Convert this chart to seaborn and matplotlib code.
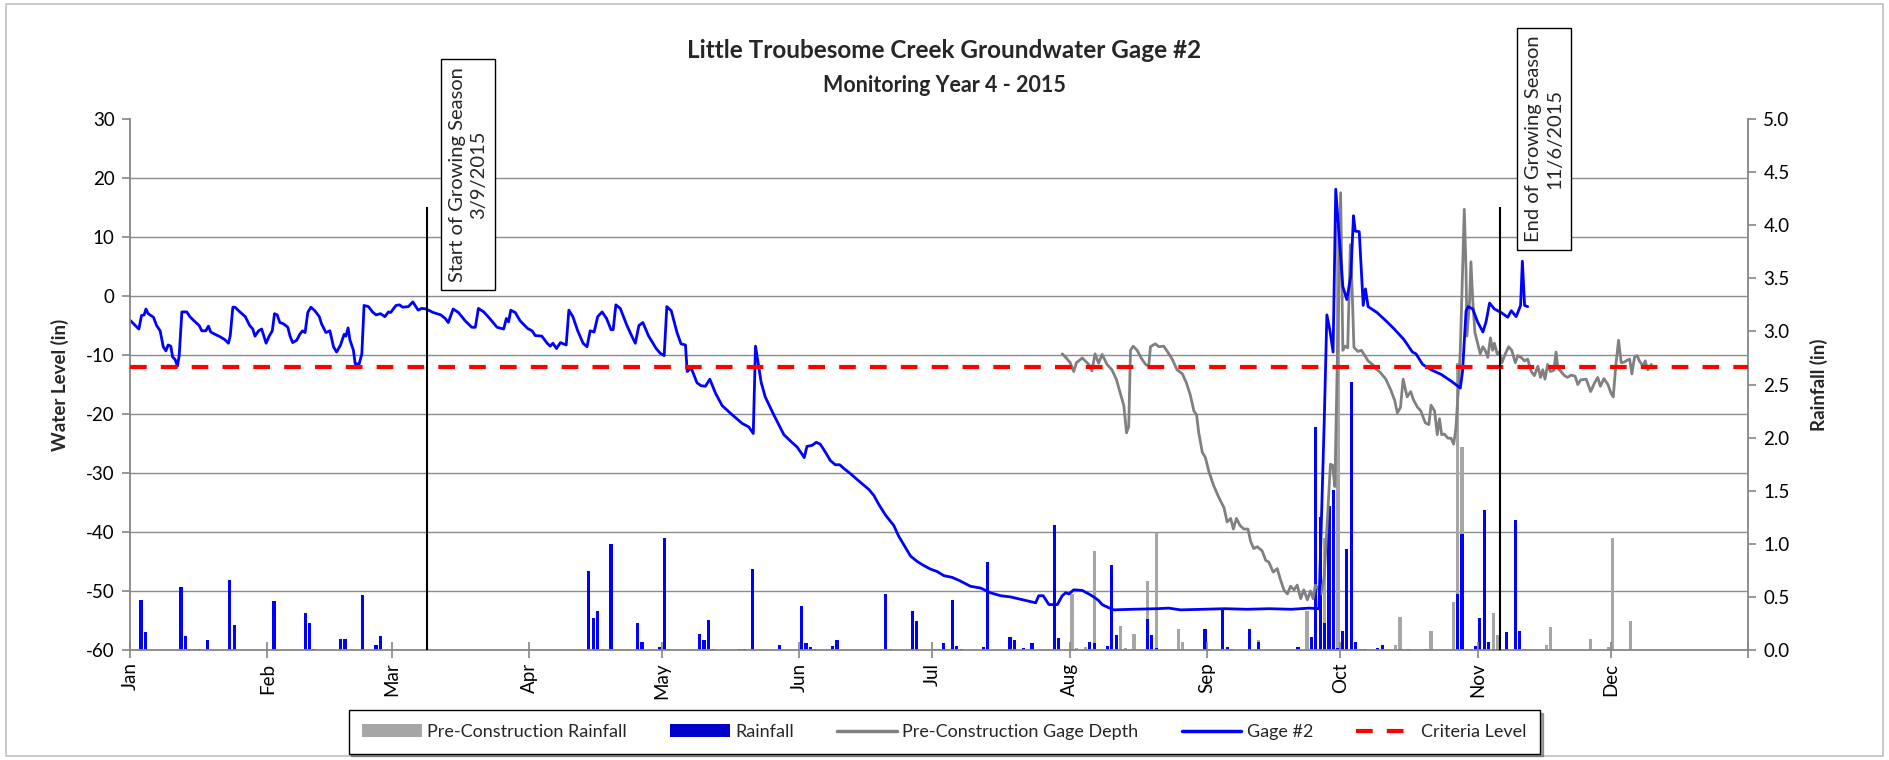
import numpy as np
import pandas as pd
import matplotlib
matplotlib.use("Agg")
import matplotlib.pyplot as plt
from matplotlib.lines import Line2D
from matplotlib.patches import Patch, Rectangle
import seaborn as sns

YEAR_START = pd.Timestamp("2015-01-01")
YEAR_END = pd.Timestamp("2016-01-01")

# ---- Gage #2 water level (days after Jan 1, inches) ----
gage2_day = [
    0, 2.0, 2.6, 3.2, 3.6, 4.1, 5.3, 6.0, 6.8, 7.5, 8.1, 8.6, 9.2, 9.6, 10.2, 10.7, 11.1,
    11.7, 12.8, 13.5, 14.3, 15.6, 16.2, 17.1, 17.7, 18.2, 19.2, 20.3, 21.4, 22.2, 22.6,
    23.2, 23.7, 24.8, 26.0, 27.0, 27.7, 28.2, 29.0, 29.7, 30.7, 31.4, 32.1, 32.6, 33.2,
    33.8, 34.6, 35.6, 36.1, 36.7, 37.6, 38.3, 38.9, 39.5, 40.1, 40.8, 41.7, 42.7, 43.2,
    44.2, 45.1, 45.9, 46.6, 47.5, 48.3, 48.7, 49.2, 49.6, 50.4, 50.8, 51.7, 52.3, 52.8,
    53.8, 54.7, 55.5, 56.5, 57.5, 58.3, 58.8, 60.0, 60.8, 61.5, 62.8, 63.8, 65.0, 65.8,
    66.8, 68.4, 70.1, 71.1, 71.8, 72.9, 74.1, 75.6, 77.1, 77.9, 78.6, 79.8, 80.9, 82.8,
    84.3, 84.9, 85.4, 85.9, 86.9, 88.0, 89.7, 90.7, 91.4, 92.9, 94.1, 94.8, 95.4, 96.2,
    97.1, 98.4, 99.0, 99.9, 101.0, 102.2, 103.1, 103.8, 104.7, 105.5, 106.5, 107.5,
    108.5, 109.0, 109.6, 110.6, 112.1, 113.2, 114.0, 114.8, 115.7, 117.0, 118.7, 119.6,
    120.5, 121.1, 122.1, 123.4, 124.3, 125.3, 125.7, 126.6, 127.9, 128.8, 129.8, 130.8,
    132.1, 133.6, 135.8, 138.1, 139.6, 140.6, 141.1, 142.4, 143.3, 145.2, 147.5, 149.3,
    150.5, 151.6, 152.1, 152.7, 153.9, 154.8, 155.7, 156.9, 158.0, 159.1, 160.1, 161.0,
    162.5, 164.8, 166.7, 167.8, 168.9, 170.4, 172.3, 173.4, 174.6, 176.1, 177.6, 179.1,
    180.6, 182.1, 183.6, 185.5, 187.3, 189.6, 191.9, 194.1, 196.4, 198.6, 200.9, 203.1,
    204.3, 205.0, 206.0, 207.3, 209.2, 210.3, 211.1, 211.8, 212.9, 214.8, 216.3, 217.4,
    218.5, 219.3, 220.4, 221.9, 226.0, 231.7, 234.3, 237.0, 242.0, 247.0, 252.0, 257.0,
    262.0, 266.0, 268.2, 268.8, 269.4, 270.0, 270.7, 271.4, 272.0, 273.6, 274.5, 275.4,
    276.0, 276.4, 277.3, 278.2, 278.7, 279.3, 281.3, 283.6, 285.2, 287.4, 289.3, 290.1,
    291.6, 293.5, 295.8, 298.0, 300.1, 300.6, 301.4, 301.9, 302.9, 304.0, 305.2, 305.9,
    306.7, 307.8, 309.3, 310.8, 311.6, 312.7, 313.7, 314.1, 314.6, 315.3,
]
gage2_level = [
    -4.1, -5.6, -3.3, -3.2, -2.2, -3.0, -3.6, -5.0, -5.9, -8.6, -9.3, -8.3, -8.5, -10.3, -10.8, -11.9, -10.1,
    -2.7, -2.7, -3.5, -4.1, -5.0, -5.9, -5.9, -5.1, -6.1, -6.5, -6.9, -7.4, -8.0, -6.8,
    -1.9, -1.9, -2.7, -3.5, -5.0, -5.6, -6.8, -5.9, -5.6, -8.0, -6.8, -5.9, -3.0, -3.2,
    -4.5, -4.7, -5.3, -6.8, -7.9, -7.5, -6.5, -5.9, -6.2, -2.8, -1.9, -2.5, -3.5, -4.7,
    -6.2, -5.9, -8.6, -9.5, -8.3, -6.5, -6.8, -5.4, -7.4, -9.2, -11.5, -11.5, -9.8, -1.6,
    -1.8, -2.7, -3.2, -3.0, -3.5, -2.7, -2.8, -1.6, -1.5, -1.9, -1.8, -1.0, -2.4, -2.1,
    -2.2, -2.8, -3.2, -3.8, -4.5, -2.2, -2.8, -4.2, -5.3, -5.3, -2.1, -2.7, -3.6, -5.3,
    -5.6, -3.8, -4.4, -2.4, -2.8, -4.2, -5.5, -5.9, -6.7, -6.8, -8.0, -8.5, -8.0, -8.9,
    -7.9, -8.3, -2.4, -3.5, -5.9, -8.0, -8.6, -5.9, -6.1, -3.5, -2.7, -3.8,
    -5.7, -5.7, -1.5, -2.1, -5.0, -6.8, -8.0, -5.0, -4.5, -6.8, -8.9, -9.7,
    -10.1, -1.8, -2.5, -6.2, -8.1, -8.3, -12.8, -12.2, -14.7, -15.2, -15.3, -14.1,
    -16.5, -18.6, -20.1, -21.6, -22.2, -23.3, -8.5, -14.7, -17.1, -20.1, -23.5, -24.8,
    -25.6, -26.8, -27.4, -25.5, -25.3, -24.8, -25.1, -26.5, -27.9, -28.6, -28.6, -29.2,
    -30.1, -31.6, -32.8, -33.8, -35.3, -37.1, -38.9, -40.7, -42.2, -44.1, -45.0, -45.7,
    -46.3, -46.7, -47.4, -47.7, -48.3, -49.2, -49.5, -50.3, -50.8, -51.0, -51.4, -51.8,
    -52.0, -50.8, -50.8, -52.3, -52.3, -50.8, -50.3, -50.5, -49.8, -49.9, -50.5, -51.0,
    -51.6, -52.3, -52.7, -53.2, -53.1, -53.0, -52.9, -53.2, -53.1, -53.0, -53.1, -53.0,
    -53.1, -52.9, -53.0, -37.0, -21.3, -3.2, -5.9, -9.5, 18.1, 1.6, -0.6, 3.4,
    13.6, 11.0, 10.9, -1.6, 1.2, -1.8, -2.8, -4.4, -5.6, -7.4, -9.5, -9.8,
    -11.6, -12.5, -13.3, -14.4, -15.6, -12.8, -2.5, -1.8, -2.2, -4.4, -6.1, -4.4,
    -1.2, -2.2, -2.8, -3.6, -2.5, -3.5, -1.6, 5.9, -1.6, -1.8,
]

# ---- Pre-construction gage depth (days after Jan 1, inches) ----
pre_day = [
    210.3, 211.2, 212.1, 212.9, 213.5, 214.2, 214.8, 215.6, 216.3, 217.0, 217.7, 218.5,
    219.3, 220.4, 221.5, 222.5, 223.4, 224.2, 224.8, 225.3, 225.7, 226.3, 227.2, 228.1,
    229.1, 229.8, 230.2, 231.3, 232.1, 233.2, 234.1, 235.1, 236.2, 237.4, 238.3, 239.2,
    240.0, 240.6, 241.1, 241.9, 242.6, 243.4, 244.5, 245.6, 246.8, 247.5, 248.3, 248.9,
    249.6, 250.4, 251.3, 252.2, 252.8, 253.5, 254.3, 255.4, 256.2, 256.9, 257.9, 258.8,
    259.5, 260.3, 261.1, 261.8, 262.6, 263.3, 264.1, 264.8, 265.6, 266.3, 266.9, 267.4,
    268.2, 268.7, 269.4, 270.1, 270.8, 271.3, 271.8, 272.4, 273.1, 273.6, 274.1, 274.7,
    275.3, 275.7, 276.1, 277.0, 277.8, 278.3, 279.3, 280.3, 281.2, 282.1, 283.3, 284.4,
    285.3, 285.9, 286.6, 287.2, 288.1, 288.9, 289.6, 290.4, 291.2, 292.2, 293.0, 293.5,
    294.3, 294.9, 295.4, 295.9, 296.5, 297.3, 298.0, 298.6, 299.1, 299.7, 300.1, 300.6,
    301.0, 301.4, 301.6, 302.2, 302.5, 302.9, 303.4, 304.0, 304.6, 305.2, 305.7, 306.3,
    306.9, 307.4, 307.8, 308.4, 308.9, 309.5, 310.2, 311.0, 311.7, 312.5, 313.1, 313.8,
    314.6, 315.3, 316.1, 316.8, 317.6, 318.2, 318.7, 319.2, 319.8, 320.4, 321.2, 321.7,
    322.1, 322.8, 323.6, 324.3, 325.1, 326.0, 326.6, 327.3, 328.5, 329.5, 330.4, 331.1,
    331.7, 332.5, 333.4, 334.1, 334.6, 335.2, 335.8, 336.4, 337.1, 337.7, 338.3, 338.8,
    339.4, 340.0, 340.5, 341.3, 341.8, 342.4, 343.2,
]
pre_level = [
    -9.8, -10.5, -11.3, -12.8, -11.3, -10.9, -10.5, -11.1, -11.6, -12.7, -9.8, -11.4,
    -9.9, -11.6, -12.5, -14.1, -16.5, -18.6, -23.2, -22.1, -9.2, -8.5, -9.2, -10.5,
    -11.6, -11.9, -8.6, -8.1, -8.6, -8.5, -9.5, -10.7, -12.5, -13.2, -14.7, -16.8,
    -19.5, -20.1, -23.2, -26.5, -27.4, -29.8, -32.2, -34.1, -35.9, -38.3, -37.7, -39.5,
    -37.7, -38.9, -39.5, -39.5, -41.6, -42.8, -42.5, -43.2, -44.8, -45.1, -46.8, -46.2,
    -48.0, -49.8, -50.5, -49.2, -49.8, -49.0, -51.3, -49.8, -51.5, -50.0, -51.3, -49.0,
    -49.8, -50.5, -47.6, -38.0, -28.5, -28.7, -32.3, -9.2, 17.5, -9.2, -8.5, -8.8,
    8.7, 1.0, -8.7, -9.4, -9.2, -9.8, -11.0, -11.6, -12.4, -13.0, -14.1, -15.9,
    -17.7, -19.8, -18.9, -14.1, -17.1, -16.2, -17.7, -18.8, -19.5, -21.5, -21.8, -18.5,
    -19.5, -23.5, -20.8, -23.5, -23.4, -24.1, -24.1, -25.1, -22.5, -15.3, -9.2, 4.1,
    14.7, 4.1, -6.8, -0.7, 5.8, -0.7, -6.2, -8.0, -9.8, -8.6, -9.2, -10.4,
    -7.1, -9.2, -8.0, -9.8, -9.5, -11.3, -9.9, -8.6, -9.2, -11.3, -10.1, -10.4,
    -11.0, -10.7, -12.8, -13.5, -11.9, -13.8, -12.5, -14.1, -11.6, -12.8, -12.6, -9.5,
    -12.2, -12.8, -13.5, -13.8, -13.4, -13.6, -15.0, -14.2, -14.1, -16.2, -14.7, -13.8,
    -15.3, -14.0, -15.0, -16.5, -17.1, -11.6, -7.5, -11.3, -11.2, -10.9, -10.7, -13.2,
    -10.4, -10.1, -11.0, -11.9, -11.0, -12.5, -11.6,
]

# ---- Daily rainfall, 2015 (day after Jan 1, inches) ----
rain_day = [
    2, 3, 11, 12, 13, 14, 15, 17, 22, 23, 32, 39, 40, 41, 47, 48, 52, 55, 56,
    103, 104, 105, 106, 108, 114, 115, 119, 120, 121, 128, 129, 130, 131, 137, 138, 140,
    146, 151, 152, 153, 154, 158, 159, 169, 170, 171, 176, 177, 181, 182, 183, 185, 186,
    187, 192, 193, 198, 199, 201, 203, 208, 209, 216, 217, 220, 221, 222, 229, 230, 231,
    242, 243, 246, 247, 248, 252, 254, 263, 266, 267, 268, 269, 270, 271, 272, 273, 274,
    275, 276, 277, 278, 281, 282, 286, 288, 292, 299, 300, 301, 302, 303, 304, 305, 306,
    307, 308, 310, 312, 313, 314,
]
rain_in = [
    0.47, 0.17, 0.59, 0.13, 0.01, 0.01, 0.01, 0.09, 0.66, 0.24, 0.46, 0.35, 0.25, 0.01, 0.10, 0.10, 0.52, 0.05, 0.13,
    0.74, 0.30, 0.37, 0.01, 1.00, 0.25, 0.08, 0.03, 1.05, 0.01, 0.15, 0.09, 0.28, 0.01, 0.01, 0.01, 0.76,
    0.05, 0.41, 0.07, 0.03, 0.01, 0.04, 0.09, 0.01, 0.53, 0.01, 0.37, 0.27, 0.01, 0.01, 0.07, 0.47, 0.04,
    0.01, 0.03, 0.83, 0.12, 0.09, 0.02, 0.07, 1.18, 0.11, 0.08, 0.07, 0.04, 0.80, 0.14, 0.29, 0.14, 0.02,
    0.20, 0.01, 0.38, 0.03, 0.01, 0.20, 0.08, 0.03, 0.12, 2.10, 1.25, 0.25, 1.36, 1.51, 0.02, 0.18, 0.95,
    2.52, 0.08, 0.01, 0.01, 0.02, 0.05, 0.01, 0.01, 0.01, 0.53, 1.09, 0.01, 0.01, 0.04, 0.30, 1.32, 0.08,
    0.01, 0.01, 0.17, 1.22, 0.18, 0.01,
]

# ---- Pre-construction daily rainfall (day after Jan 1, inches) ----
pre_rain_day = [
    212, 213, 215, 217, 223, 224, 226, 229, 231, 236, 237, 254, 265, 269, 272, 285,
    286, 293, 298, 299, 300, 304, 307, 308, 319, 320, 329, 333, 334, 338,
]
pre_rain_in = [
    0.53, 0.02, 0.03, 0.93, 0.23, 0.02, 0.15, 0.65, 1.10, 0.20, 0.08, 0.09, 0.37, 1.05, 4.00, 0.05,
    0.31, 0.18, 0.45, 2.70, 1.91, 0.05, 0.35, 0.14, 0.05, 0.22, 0.10, 0.03, 1.05, 0.27,
]

criteria_level = -12
season_start = pd.Timestamp("2015-03-09")
season_end = pd.Timestamp("2015-11-06")
month_labels = ["Jan", "Feb", "Mar", "Apr", "May", "Jun",
                "Jul", "Aug", "Sep", "Oct", "Nov", "Dec"]
level_ticks = list(range(-60, 31, 10))
rain_ticks = [i * 0.5 for i in range(11)]


def to_dates(days):
    return YEAR_START + pd.to_timedelta(np.asarray(days, dtype=float), unit="D")


sns.set_theme(style="white")
plt.rcParams["font.family"] = ["Lato", "DejaVu Sans"]
plt.rcParams["axes.unicode_minus"] = False

AXIS_GREY = "#868686"
W, H = 1889, 760
CRITERIA_DASH = (4, 3.4)

fig = plt.figure(figsize=(W / 100, H / 100), dpi=100)
ax = fig.add_axes([130 / W, 1 - 650 / H, 1618 / W, 531 / H])
ax2 = ax.twinx()
ax.set_zorder(ax2.get_zorder() + 1)
ax.patch.set_visible(False)

# rainfall columns on the secondary axis (drawn underneath the lines)
ax2.bar(to_dates(np.asarray(pre_rain_day) + 0.5), pre_rain_in, width=0.72,
        color="#A6A6A6", linewidth=0)
ax2.bar(to_dates(np.asarray(rain_day) + 0.5), rain_in, width=0.72,
        color="#0000FF", linewidth=0)
ax2.set_ylim(0, 5)

# water level series
sns.lineplot(x=to_dates(pre_day), y=pre_level, ax=ax, color="#808080",
             linewidth=2.0, estimator=None, sort=False, legend=False)
sns.lineplot(x=to_dates(gage2_day), y=gage2_level, ax=ax, color="#0000FF",
             linewidth=2.0, estimator=None, sort=False, legend=False)
ax.axhline(criteria_level, color="#FF0000", linewidth=3, dashes=CRITERIA_DASH, zorder=4)

ax.set_xlim(YEAR_START, YEAR_END)
ax.set_ylim(level_ticks[0], level_ticks[-1])

# growing season markers
for when in (season_start, season_end):
    ax.vlines(when, -60, 15, color="black", linewidth=1.5, zorder=5)

box = dict(boxstyle="square,pad=0.4", facecolor="white", edgecolor="black", linewidth=1.0)
ax.text(to_dates([76.2])[0], 20.6, "Start of Growing Season\n3/9/2015", rotation=90,
        ha="center", va="center", multialignment="center", fontsize=14.5,
        linespacing=1.3, bbox=box, clip_on=False, zorder=6)
ax.text(to_dates([319.0])[0], 26.6, "End of Growing Season\n11/6/2015", rotation=90,
        ha="center", va="center", multialignment="center", fontsize=14.5,
        linespacing=1.3, bbox=box, clip_on=False, zorder=6)

# axes, ticks, grid
month_starts = list(pd.date_range(YEAR_START, YEAR_END, freq="MS"))
ax.set_xticks(month_starts)
ax.set_xticklabels(month_labels + [""])
ax.set_yticks(level_ticks)
ax2.set_yticks(rain_ticks)
ax2.set_yticklabels([f"{v:.1f}" for v in rain_ticks])

lo, hi = level_ticks[0], level_ticks[-1]
ax2.set_yticks([(v - lo) / (hi - lo) * 5 for v in level_ticks], minor=True)
ax.grid(False)
ax2.grid(False)
ax2.grid(which="minor", axis="y", color="#8C8C8C", linewidth=1.0)
ax2.tick_params(which="minor", length=0)

for a in (ax, ax2):
    for s in a.spines.values():
        s.set_visible(False)
        s.set_color(AXIS_GREY)
        s.set_linewidth(1.3)
ax.spines["left"].set_visible(True)
ax.spines["bottom"].set_visible(True)
ax2.spines["right"].set_visible(True)

ax.tick_params(axis="y", which="major", left=True, direction="out", length=6, width=1.2,
               color=AXIS_GREY, labelsize=13.5, labelcolor="black", pad=5)
ax.tick_params(axis="x", which="major", bottom=True, direction="inout", length=12, width=1.2,
               color=AXIS_GREY, labelsize=13.5, labelcolor="black", pad=3, labelrotation=90)
ax2.tick_params(axis="y", which="major", right=True, direction="out", length=6, width=1.2,
                color=AXIS_GREY, labelsize=13.5, labelcolor="black", pad=5)

ax.set_xlabel("")
ax.set_ylabel("Water Level (in)", fontsize=13.5, fontweight="bold")
ax.yaxis.set_label_coords(-0.0377, 0.5)
ax2.set_ylabel("Rainfall (in)", fontsize=13.5, fontweight="bold")
ax2.yaxis.set_label_coords(1.0383, 0.5)

fig.text(0.5, 1 - 50 / H, "Little Troubesome Creek Groundwater Gage #2",
         ha="center", va="center", fontsize=17.5, fontweight="bold")
fig.text(0.5, 1 - 85 / H, "Monitoring Year 4 - 2015",
         ha="center", va="center", fontsize=15.5, fontweight="bold")

handles = [
    Patch(facecolor="#A6A6A6", edgecolor="none"),
    Patch(facecolor="#0000CC", edgecolor="none"),
    Line2D([], [], color="#808080", linewidth=2.5),
    Line2D([], [], color="#0000FF", linewidth=2.5),
    Line2D([], [], color="#FF0000", linewidth=3, dashes=CRITERIA_DASH),
]
labels = ["Pre-Construction Rainfall", "Rainfall", "Pre-Construction Gage Depth",
          "Gage #2", "Criteria Level"]
leg = fig.legend(handles, labels, loc="center", bbox_to_anchor=(0.5, 1 - 732 / H),
                 ncol=5, fontsize=13, frameon=True, fancybox=False, shadow=True,
                 edgecolor="black", framealpha=1, handlelength=3.3, handletextpad=0.3,
                 columnspacing=2.4, borderpad=0.75)
leg.get_frame().set_linewidth(1.0)

fig.patches.append(Rectangle((6 / W, 4 / H), (1883 - 6) / W, (756 - 4) / H,
                             transform=fig.transFigure, fill=False,
                             edgecolor="#BFBFBF", linewidth=1.2))

fig.savefig("out.png", dpi=100)
